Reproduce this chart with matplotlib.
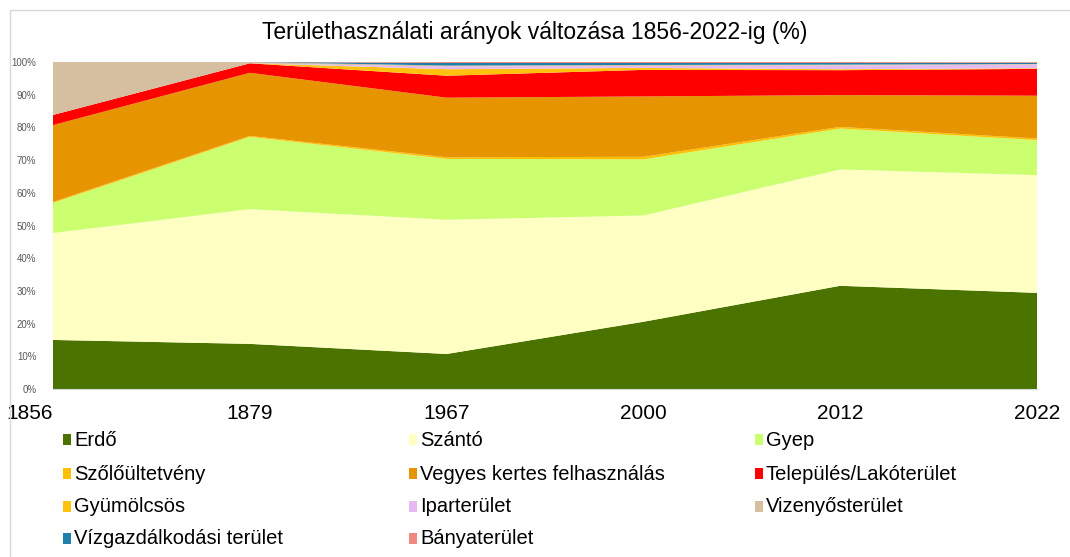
import matplotlib.pyplot as plt
from matplotlib.patches import Rectangle
import numpy as np

plt.rcParams['font.family'] = ['Liberation Sans', 'DejaVu Sans']

years = ['1856', '1879', '1967', '2000', '2012', '2022']

erdo = [15.0, 13.8, 10.7, 20.5, 31.5, 29.4]
szanto = [32.7, 41.2, 41.0, 32.4, 35.5, 36.0]
gyep = [9.2, 22.1, 18.6, 17.1, 12.5, 10.7]
szolo = [0.3, 0.3, 0.5, 0.8, 0.5, 0.5]
vegyes = [23.5, 19.3, 18.2, 18.4, 9.7, 13.1]
telepules = [3.1, 2.9, 6.7, 8.1, 7.6, 8.2]
gyumolcsos = [0.0, 0.0, 2.0, 0.6, 0.3, 0.2]
ipar = [0.0, 0.0, 0.8, 0.6, 1.1, 1.1]
vizenyos = [16.2, 0.4, 0.3, 0.3, 0.3, 0.2]
vizgazd = [0.0, 0.0, 0.8, 0.6, 0.5, 0.4]
banya = [0.0, 0.0, 0.3, 0.3, 0.3, 0.2]

labels = ['Erdő', 'Szántó', 'Gyep', 'Szőlőültetvény', 'Vegyes kertes felhasználás',
          'Település/Lakóterület', 'Gyümölcsös', 'Iparterület', 'Vizenyősterület',
          'Vízgazdálkodási terület', 'Bányaterület']
colors = ['#4B7300', '#FFFFC4', '#CCFF70', '#FFC000', '#E69500',
          '#FF0000', '#FFC20E', '#E5B9F2', '#D6BFA0', '#1F7FA8', '#F08A80']

series = [erdo, szanto, gyep, szolo, vegyes, telepules, gyumolcsos, ipar,
          vizenyos, vizgazd, banya]
data = np.array(series)
data = data / data.sum(axis=0) * 100

W, H = 1070, 557
fig = plt.figure(figsize=(W / 100, H / 100), dpi=100)
ax = fig.add_axes([53 / W, 1 - 389 / H, (1037 - 53) / W, (389 - 62) / H])

x = np.arange(len(years))
ax.stackplot(x, data, colors=colors, linewidth=0)

ax.set_xlim(0, len(years) - 1)
ax.set_ylim(0, 100)
ax.set_yticks(np.arange(0, 101, 10))
ax.set_yticklabels([f'{v}%' for v in range(0, 101, 10)], fontsize=7, color='#595959')
ax.set_xticks(x)
ax.set_xticklabels(years, fontsize=15, color='black')
ax.tick_params(axis='y', length=0, pad=12)
ax.tick_params(axis='x', length=0, pad=11)
tl = ax.get_xticklabels()
tl[0].set_horizontalalignment('right')
for s in ax.spines.values():
    s.set_visible(False)
ax.spines['bottom'].set_visible(True)
ax.spines['bottom'].set_color('#d9d9d9')

fig.text(0.5, 1 - 33 / H, 'Területhasználati arányok változása 1856-2022-ig (%)',
         ha='center', va='center', fontsize=16.5)

# legend, row-wise in 3 columns
col_x = [63, 409, 755]
row_y = [440, 474, 507, 539]
for i, (lab, c) in enumerate(zip(labels, colors)):
    cx = col_x[i % 3]
    cy = row_y[i // 3]
    fig.patches.append(Rectangle((cx / W, 1 - (cy + 5) / H), 8 / W, 11 / H,
                                 transform=fig.transFigure, facecolor=c,
                                 edgecolor='none'))
    fig.text((cx + 11) / W, 1 - cy / H, lab, ha='left', va='center',
             fontsize=14.5, color='black')

fig.patches.append(Rectangle((10 / W, -0.01), 1.02, 1 - 10 / H + 0.01,
                             transform=fig.transFigure, fill=False,
                             edgecolor='#d9d9d9', linewidth=1))

fig.savefig('out.png', dpi=100)
